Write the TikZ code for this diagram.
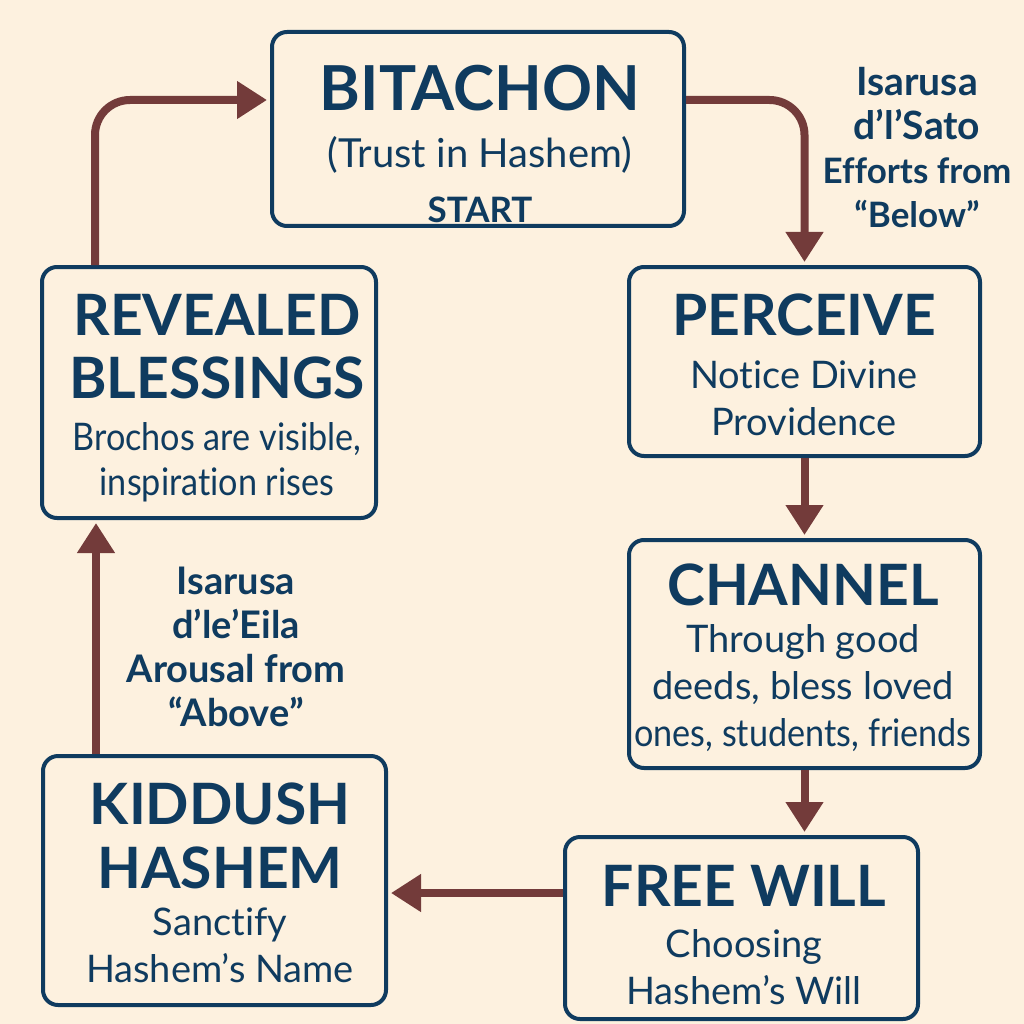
\documentclass[tikz,border=0pt]{standalone}
\usepackage{fontspec}
\setmainfont{Lato}[Ligatures={NoCommon}]
\usepackage{xcolor}
\usepackage{graphicx}
\usetikzlibrary{arrows.meta}

\definecolor{cream}{HTML}{FDF1DF}
\definecolor{navy}{HTML}{0F3B5F}
\definecolor{maroon}{HTML}{733B3A}
\newcommand{\ttl}{\fontsize{57}{64}\selectfont\bfseries}
\newcommand{\narrow}[1]{\scalebox{0.9}[1]{#1}}

\begin{document}
\begin{tikzpicture}[x=1pt,y=-1pt,
	box/.style={draw=navy,line width=4pt,rounded corners=15pt,inner sep=0pt},
	txt/.style={text=navy,align=center,anchor=north,inner sep=0pt,font=\fontsize{38}{47}\selectfont},
	lbl/.style={text=navy,align=center,anchor=north,inner sep=0pt,font=\fontsize{36}{44}\selectfont\bfseries},
	flow/.style={draw=maroon,line width=8pt,shorten >=3pt,-{Triangle[width=36pt,length=30pt]}}]
	\fill[cream] (0,0) rectangle (1024,1024);
	\useasboundingbox (0,0) rectangle (1024,1024);

	\node[box,minimum width=412pt,minimum height=194pt] (bit) at (478,129) {};
	\node[box,minimum width=351pt,minimum height=189pt] (per) at (804.5,361.5) {};
	\node[box,minimum width=351pt,minimum height=228pt] (chan) at (804.5,654) {};
	\node[box,minimum width=353pt,minimum height=182pt] (free) at (741.5,928) {};
	\node[box,minimum width=343pt,minimum height=249pt] (kid) at (214.5,880.5) {};
	\node[box,minimum width=334pt,minimum height=251pt] (rev) at (209,392.5) {};

	\node[txt] (bittxt) at (480,65) {{\fontsize{62}{64}\selectfont\bfseries BITACHON}\\[10pt]{\fontsize{40}{47}\selectfont(Trust in Hashem)}\\[8pt]{\fontsize{35}{40}\selectfont\bfseries START}};
	\node[txt] (pertxt) at (804,294) {{\ttl PERCEIVE}\\[6pt]Notice Divine\\Providence};
	\node[txt] (chantxt) at (803,564) {{\ttl CHANNEL}\\Through good\\deeds, bless loved\\\narrow{ones, students, friends}};
	\node[txt] (freetxt) at (744,865) {{\ttl FREE WILL}\\[4pt]Choosing\\Hashem’s Will};
	\node[txt] (kidtxt) at (220,783) {{\ttl KIDDUSH}\\[17pt]{\ttl HASHEM}\\Sanctify\\Hashem’s Name};
	\node[txt] (revtxt) at (217,294) {{\ttl REVEALED}\\[16pt]{\ttl BLESSINGS}\\[5pt]\narrow{Brochos are visible,}\\[-2pt]\narrow{inspiration rises}};

	\node[lbl] (below) at (917,67) {{\fontsize{39}{44}\selectfont Isarusa}\\{\fontsize{39}{44}\selectfont d’l’Sato}\\{\fontsize{35}{44}\selectfont Efforts from}\\{\fontsize{35}{44}\selectfont “Below”}};
	\node[lbl] (above) at (236,567) {{\fontsize{38}{44}\selectfont Isarusa}\\{\fontsize{38}{44}\selectfont d’le’Eila}\\{\fontsize{38}{44}\selectfont Arousal from}\\{\fontsize{38}{44}\selectfont “Above”}};

	\draw[flow,rounded corners=35pt] ([yshift=29pt]bit.east) -| (per.north);
	\draw[flow] (per.south) -- (chan.north);
	\draw[flow] (chan.south) -- (chan.south |- free.north);
	\draw[flow] ([yshift=35pt]free.west) -- ([yshift=35pt]free.west -| kid.east);
	\draw[flow] ([xshift=55pt]kid.north west) -- ([xshift=55pt]kid.north west |- rev.south);
	\draw[flow,rounded corners=35pt] ([xshift=55pt]rev.north west) |- ([yshift=29pt]bit.west);
\end{tikzpicture}
\end{document}
